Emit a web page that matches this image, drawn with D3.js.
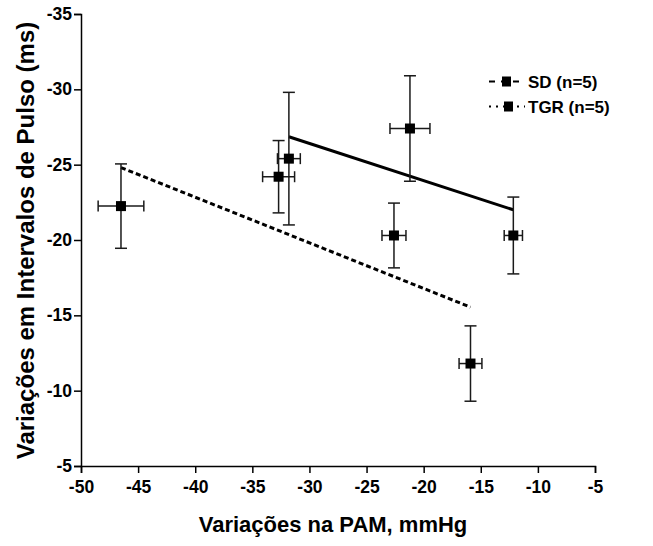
<!DOCTYPE html>
<html>
  <head>
    <script src="https://d3js.org/d3.v7.min.js"></script>
    <style>
      body { margin: 0; background: white; }
      text { font-family: "Liberation Sans", Arial, sans-serif; font-weight: bold; fill: black; }
    </style>
  </head>
  <body>
    <svg id="chart" width="653" height="546"></svg>
    <script>
      // SD group (solid regression line)
      const sdX = [-31.8, -21.2, -12.15];
      const sdY = [-25.4, -27.4, -20.3];
      const sdXErr = [1.0, 1.75, 0.8];
      const sdYErr = [4.4, 3.5, 2.55];
      // TGR group (dotted regression line)
      const tgrX = [-46.5, -32.7, -22.6, -15.9];
      const tgrY = [-22.25, -24.2, -20.3, -11.8];
      const tgrXErr = [2.0, 1.4, 1.05, 1.0];
      const tgrYErr = [2.8, 2.4, 2.15, 2.5];

      const xTicks = [-50, -45, -40, -35, -30, -25, -20, -15, -10, -5];
      const yTicks = [-35, -30, -25, -20, -15, -10, -5];
      const legendLabels = ["SD (n=5)", "TGR (n=5)"];

      const svg = d3.select("#chart");
      const margins = {top: 14, left: 81, right: 58, bottom: 80};
      const w = 653 - margins.left - margins.right;
      const h = 546 - margins.top - margins.bottom;
      const g = svg.append("g").attr("transform", `translate(${margins.left},${margins.top})`);

      let xScale = d3.scaleLinear().domain([-50, -5]).range([0, w]);
      let yScale = d3.scaleLinear().domain([-35, -5]).range([0, h]);

      let bottomAxis = d3.axisBottom(xScale).tickValues(xTicks).tickSize(7).tickPadding(8).tickFormat(d => String(d));
      let leftAxis = d3.axisLeft(yScale).tickValues(yTicks).tickSize(7).tickPadding(2).tickFormat(d => String(d));

      const xa = g.append("g").attr("transform", `translate(0,${h})`).call(bottomAxis);
      const ya = g.append("g").call(leftAxis);
      [xa, ya].forEach(a => {
        a.select(".domain").attr("stroke-width", 1.5).attr("stroke", "black");
        a.selectAll(".tick line").attr("stroke-width", 1.5);
        a.selectAll("text").style("font-size", "17.5px").style("font-weight", "bold");
      });

      // linear regression fitted to each group
      function fit(xs, ys) {
        const mx = d3.mean(xs), my = d3.mean(ys);
        let sxy = 0, sxx = 0;
        xs.forEach((x, i) => { sxy += (x - mx) * (ys[i] - my); sxx += (x - mx) * (x - mx); });
        const b = sxy / sxx;
        const x0 = d3.min(xs), x1 = d3.max(xs);
        return [[x0, my + b * (x0 - mx)], [x1, my + b * (x1 - mx)]];
      }
      const line = d3.line().x(d => xScale(d[0])).y(d => yScale(d[1]));
      g.append("path").attr("d", line(fit(sdX, sdY)))
        .attr("fill", "none").attr("stroke", "black").attr("stroke-width", 3);
      g.append("path").attr("d", line(fit(tgrX, tgrY)))
        .attr("fill", "none").attr("stroke", "black").attr("stroke-width", 3)
        .attr("stroke-dasharray", "5,3");

      const cap = 6;
      function drawGroup(xs, ys, xe, ye) {
        xs.forEach((x, i) => {
          const cx = xScale(x), cy = yScale(ys[i]);
          const y0 = yScale(ys[i] - ye[i]), y1 = yScale(ys[i] + ye[i]);
          const x0 = xScale(x - xe[i]), x1 = xScale(x + xe[i]);
          const eg = g.append("g").attr("stroke", "#1a1a1a").attr("stroke-width", 1.5);
          eg.append("line").attr("x1", cx).attr("x2", cx).attr("y1", y0).attr("y2", y1);
          eg.append("line").attr("x1", cx - cap).attr("x2", cx + cap).attr("y1", y0).attr("y2", y0);
          eg.append("line").attr("x1", cx - cap).attr("x2", cx + cap).attr("y1", y1).attr("y2", y1);
          eg.append("line").attr("x1", x0).attr("x2", x1).attr("y1", cy).attr("y2", cy);
          eg.append("line").attr("x1", x0).attr("x2", x0).attr("y1", cy - 5.5).attr("y2", cy + 5.5);
          eg.append("line").attr("x1", x1).attr("x2", x1).attr("y1", cy - 5.5).attr("y2", cy + 5.5);
          g.append("rect").attr("x", cx - 5).attr("y", cy - 5).attr("width", 10).attr("height", 10).attr("fill", "black");
        });
      }
      drawGroup(sdX, sdY, sdXErr, sdYErr);
      drawGroup(tgrX, tgrY, tgrXErr, tgrYErr);

      // legend
      const dashes = ["6,6", "2,5"];
      legendLabels.forEach((lab, i) => {
        const ly = 81.5 + i * 25;
        svg.append("line").attr("x1", 489).attr("x2", 525).attr("y1", ly).attr("y2", ly)
          .attr("stroke", "black").attr("stroke-width", 2).attr("stroke-dasharray", dashes[i]);
        svg.append("rect").attr("x", 502 + i * 2).attr("y", ly - 5).attr("width", 9).attr("height", 10).attr("fill", "black");
        svg.append("text").attr("x", 528).attr("y", ly + 6.5).style("font-size", "17px").text(lab);
      });

      // axis titles
      svg.append("text").attr("x", 333).attr("y", 532)
        .attr("text-anchor", "middle").style("font-size", "22px").text("Variações na PAM, mmHg");
      svg.append("text").attr("transform", "translate(33.5,240.5) rotate(-90)")
        .attr("text-anchor", "middle").style("font-size", "24px").text("Variações em Intervalos de Pulso (ms)");
    </script>
  </body>
</html>
